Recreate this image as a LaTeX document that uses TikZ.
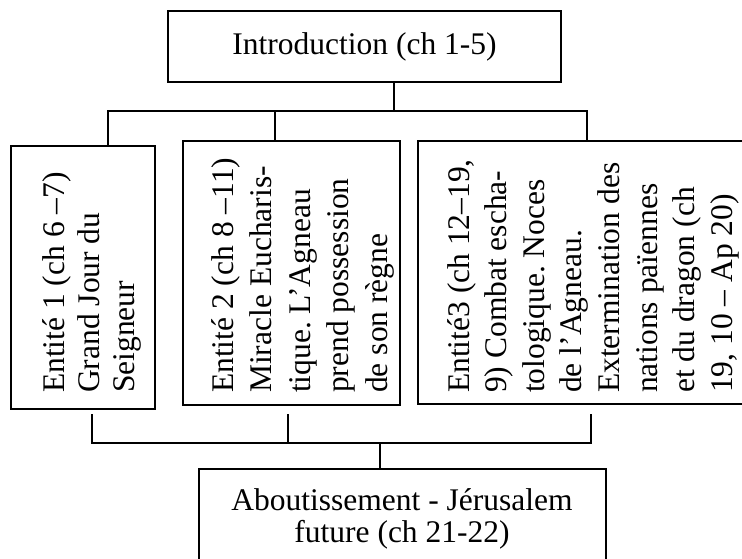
\documentclass[tikz,border=0pt]{standalone}
\usepackage{fontspec}
\setmainfont{Liberation Serif}
\frenchspacing

\tikzset{
  boite/.style={draw, line width=2pt, inner sep=0pt, align=center},
  texte/.style={rotate=90, anchor=north west, inner sep=0pt, align=left},
  lien/.style={line width=1.6pt}
}

\begin{document}
\begin{tikzpicture}[x=1pt, y=-1pt, font=\fontsize{31.5}{32}\selectfont]
				\useasboundingbox (0,0) rectangle (742,559);
				\clip (0,0) rectangle (742,559);

				\node[boite, minimum width=393pt, minimum height=71pt] (intro) at (364.5,46.5) {Introduction (ch 1-5)};

				% les trois entites (cadres, puis texte couche)
				\node[boite, minimum width=144pt, minimum height=263pt] (ent1) at (83,277.5) {};
				\node[boite, minimum width=217pt, minimum height=264pt] (ent2) at (291.5,273) {};
				\node[boite, minimum width=337pt, minimum height=263pt] (ent3) at (586.5,272.5) {};

				\node[texte, font=\fontsize{31.5}{35}\selectfont] (txt1) at (42,393)
					{Entité 1 (ch 6 –7)\\ Grand Jour du\\ Seigneur};
				\node[texte, font=\fontsize{31.5}{38.5}\selectfont] (txt2) at (211,393)
					{Entité 2 (ch 8 –11)\\ Miracle Eucharis-\\ tique. L’Agneau\\ prend possession\\ de son règne};
				\node[texte, font=\fontsize{31.5}{37.6}\selectfont] (txt3) at (447,393)
					{Entité3 (ch 12–19,\\ 9) Combat escha-\\ tologique. Noces\\ de l’Agneau.\\ Extermination des\\ nations païennes\\ et du dragon (ch\\ 19, 10 – Ap 20)};

				\node[boite, minimum width=407pt, minimum height=99pt] (fin) at (402,518.5)
					{Aboutissement - Jérusalem\\ future (ch 21-22)};

				\coordinate (haut) at (394,111); % barre du haut
				\coordinate (bas) at (380,443); % barre du bas

				\draw[lien] ([xshift=29.5pt]intro.south) -- (haut);
				\draw[lien] ([xshift=25pt]ent1.north) |- (haut) -| ([xshift=0.5pt]ent3.north);
				\draw[lien] ([xshift=-16.5pt]ent2.north) -- ([xshift=-16.5pt]ent2.north |- haut);

				\draw[lien] ([xshift=9pt,yshift=-4pt]ent1.south) |- (bas) -| ([xshift=4.5pt,yshift=-9pt]ent3.south);
				\draw[lien] ([xshift=-3.5pt,yshift=-8pt]ent2.south) -- ([xshift=-3.5pt]ent2.south |- bas);
				\draw[lien] (bas) -- (bas |- fin.north);
\end{tikzpicture}
\end{document}
